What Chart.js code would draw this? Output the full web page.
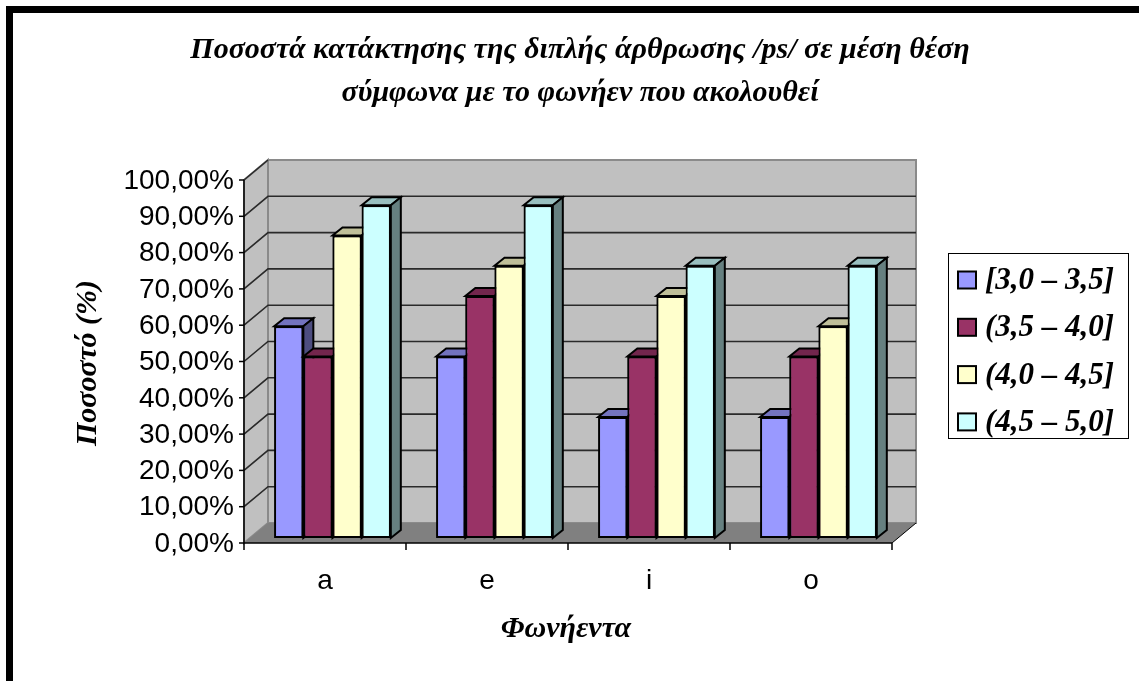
<!DOCTYPE html>
<html lang="el">
<head>
<meta charset="utf-8">
<title>Ποσοστά κατάκτησης /ps/</title>
<script src="https://cdn.jsdelivr.net/npm/chart.js@4.4.1/dist/chart.umd.min.js"></script>
<style>
    html, body { margin: 0; padding: 0; background: #fff; overflow: hidden; }
    #frame {
        position: absolute; left: 6px; top: 6px;
        width: 1400px; height: 900px;
        border-left: 7px solid #000; border-top: 7px solid #000;
    }
    #wrap { position: absolute; left: 0; top: 0; width: 1139px; height: 681px; }
</style>
</head>
<body>
<div id="frame"></div>
<div id="wrap"><canvas id="chart" width="1139" height="681"></canvas></div>
<script>
// Vowels and age bands
const vowels = ['a', 'e', 'i', 'o'];
const ageBands = ['[3,0 – 3,5]', '(3,5 – 4,0]', '(4,0 – 4,5]', '(4,5 – 5,0]'];

// Acquisition rate (%) per age band, one value per vowel
const band1 = [58.33, 50.00, 33.33, 33.33];
const band2 = [50.00, 66.67, 50.00, 50.00];
const band3 = [83.33, 75.00, 66.67, 58.33];
const band4 = [91.67, 91.67, 75.00, 75.00];

const yTicks = [0, 10, 20, 30, 40, 50, 60, 70, 80, 90, 100];

const titleLines = ['Ποσοστά κατάκτησης της διπλής άρθρωσης /ps/ σε μέση θέση',
                    'σύμφωνα με το φωνήεν που ακολουθεί'];
const yTitle = 'Ποσοστό (%)';
const xTitle = 'Φωνήεντα';

const bandColors = [[0x99, 0x99, 0xFF], [0x99, 0x33, 0x66], [0xFF, 0xFF, 0xCC], [0xCC, 0xFF, 0xFF]];

const rgb = (c, k) => 'rgb(' + c.map(v => Math.round(v * k)).join(',') + ')';

// 3D offsets: front plane (axes) and back wall relative to the bars' front faces
const FRONT = { x: -7.5, y: 5 };
const BACK = { x: 16.5, y: -15 };
const BAR_DEPTH = { x: 10, y: -8 };

const serif = '"Liberation Serif", "Times New Roman", serif';
const sans = '"Liberation Sans", Arial, sans-serif';

function poly(ctx, pts, fill, stroke, lw) {
    ctx.beginPath();
    ctx.moveTo(pts[0][0], pts[0][1]);
    for (let i = 1; i < pts.length; i++) ctx.lineTo(pts[i][0], pts[i][1]);
    ctx.closePath();
    if (fill) { ctx.fillStyle = fill; ctx.fill(); }
    if (stroke) { ctx.strokeStyle = stroke; ctx.lineWidth = lw || 1; ctx.stroke(); }
}

const excel3d = {
    id: 'excel3d',
    beforeDatasetsDraw(chart) {
        const ctx = chart.ctx;
        const ys = chart.scales.y, xs = chart.scales.x;
        const L = chart.chartArea.left, R = chart.chartArea.right;
        const y0 = ys.getPixelForValue(0), y100 = ys.getPixelForValue(100);
        ctx.save();

        // back wall
        poly(ctx, [[L + BACK.x, y100 + BACK.y], [R + BACK.x, y100 + BACK.y],
                   [R + BACK.x, y0 + BACK.y], [L + BACK.x, y0 + BACK.y]], '#c0c0c0', '#8a8a8a', 2);
        // side wall
        poly(ctx, [[L + FRONT.x, y100 + FRONT.y], [L + BACK.x, y100 + BACK.y],
                   [L + BACK.x, y0 + BACK.y], [L + FRONT.x, y0 + FRONT.y]], '#c0c0c0', '#8a8a8a', 2);

        // gridlines on both walls
        ctx.strokeStyle = '#2a2a2a';
        ctx.lineWidth = 1.6;
        yTicks.forEach(v => {
            if (v === 0) return;
            const y = ys.getPixelForValue(v);
            ctx.beginPath();
            ctx.moveTo(L + FRONT.x, y + FRONT.y);
            ctx.lineTo(L + BACK.x, y + BACK.y);
            if (v !== 100) ctx.lineTo(R + BACK.x, y + BACK.y);
            ctx.stroke();
        });

        // floor
        poly(ctx, [[L + FRONT.x, y0 + FRONT.y], [R + FRONT.x, y0 + FRONT.y],
                   [R + BACK.x, y0 + BACK.y], [L + BACK.x, y0 + BACK.y]], '#808080');
        ctx.strokeStyle = '#000';
        ctx.lineWidth = 1;
        ctx.beginPath();
        ctx.moveTo(R + FRONT.x, y0 + FRONT.y);
        ctx.lineTo(R + BACK.x, y0 + BACK.y);
        ctx.stroke();

        // value axis
        ctx.lineWidth = 1.5;
        ctx.beginPath();
        ctx.moveTo(L + FRONT.x, y100 + FRONT.y);
        ctx.lineTo(L + FRONT.x, y0 + FRONT.y);
        ctx.lineTo(R + FRONT.x, y0 + FRONT.y);
        ctx.stroke();
        yTicks.forEach(v => {
            const y = ys.getPixelForValue(v) + FRONT.y;
            ctx.beginPath();
            ctx.moveTo(L + FRONT.x - 5, y);
            ctx.lineTo(L + FRONT.x, y);
            ctx.stroke();
        });
        // category ticks between groups
        const step = (R - L) / vowels.length;
        for (let i = 0; i <= vowels.length; i++) {
            const x = L + FRONT.x + i * step;
            ctx.beginPath();
            ctx.moveTo(x, y0 + FRONT.y);
            ctx.lineTo(x, y0 + FRONT.y + 7);
            ctx.stroke();
        }

        // tick labels
        ctx.fillStyle = '#000';
        ctx.font = '28px ' + sans;
        ctx.textAlign = 'right';
        ctx.textBaseline = 'middle';
        yTicks.forEach(v => {
            const y = ys.getPixelForValue(v) + FRONT.y;
            ctx.fillText(v.toFixed(2).replace('.', ',') + '%', L + FRONT.x - 10, y + 1);
        });
        ctx.textAlign = 'center';
        vowels.forEach((lab, i) => {
            ctx.fillText(lab, xs.getPixelForValue(i) + FRONT.x, y0 + 43);
        });
        ctx.restore();
    },
    afterDatasetsDraw(chart) {
        // redraw each column left to right with its top and side faces,
        // so every column sits in front of its left neighbour's side face
        const ctx = chart.ctx;
        const dx = BAR_DEPTH.x, dy = BAR_DEPTH.y;
        ctx.save();
        ctx.lineJoin = 'miter';
        vowels.forEach((v, j) => {
            chart.data.datasets.forEach((ds, i) => {
                const bar = chart.getDatasetMeta(i).data[j];
                const c = bandColors[i];
                const p = bar.getProps(['x', 'y', 'base', 'width'], true);
                const l = p.x - p.width / 2, r = p.x + p.width / 2;
                bar.draw(ctx);
                poly(ctx, [[l, p.y], [r, p.y], [r + dx, p.y + dy], [l + dx, p.y + dy]], rgb(c, 0.75), '#000', 2);
                poly(ctx, [[r, p.y], [r + dx, p.y + dy], [r + dx, p.base + dy], [r, p.base]], rgb(c, 0.5), '#000', 2);
            });
        });
        ctx.restore();
    },
    afterDraw(chart) {
        const ctx = chart.ctx;
        ctx.save();
        ctx.fillStyle = '#000';
        ctx.textBaseline = 'middle';
        ctx.textAlign = 'center';

        // chart title
        ctx.font = 'italic bold 30px ' + serif;
        ctx.fillText(titleLines[0], 580, 50);
        ctx.fillText(titleLines[1], 580, 93);

        // axis titles
        ctx.font = 'italic bold 30px ' + serif;
        ctx.fillText(xTitle, 566, 629);
        ctx.save();
        ctx.translate(88, 363);
        ctx.rotate(-Math.PI / 2);
        ctx.fillText(yTitle, 0, 0);
        ctx.restore();

        // legend
        ctx.strokeStyle = '#000';
        ctx.lineWidth = 1;
        ctx.strokeRect(948.5, 253.5, 180, 185);
        ctx.font = 'italic bold 31px ' + serif;
        ctx.textAlign = 'left';
        ageBands.forEach((name, i) => {
            const cy = 280 + i * 47.3;
            ctx.fillStyle = rgb(bandColors[i], 1);
            ctx.fillRect(958, cy - 8.5, 18, 17);
            ctx.lineWidth = 2;
            ctx.strokeRect(958, cy - 8.5, 18, 17);
            ctx.fillStyle = '#000';
            ctx.fillText(name, 985, cy + 1);
        });
        ctx.restore();
    }
};

const seriesValues = [band1, band2, band3, band4];

new Chart(document.getElementById('chart'), {
    type: 'bar',
    data: {
        labels: vowels,
        datasets: seriesValues.map((vals, i) => ({
            label: ageBands[i],
            data: vals,
            backgroundColor: rgb(bandColors[i], 1),
            borderColor: '#000',
            borderWidth: 2,
            borderSkipped: false
        }))
    },
    options: {
        responsive: false,
        animation: false,
        devicePixelRatio: 1,
        layout: { padding: { left: 251.5, right: 239.5, top: 175, bottom: 143 } },
        datasets: { bar: { barPercentage: 1, categoryPercentage: 0.72 } },
        scales: {
            x: { display: false },
            y: { display: false, min: 0, max: 100 }
        },
        plugins: {
            legend: { display: false },
            title: { display: false },
            tooltip: { enabled: false }
        }
    },
    plugins: [excel3d]
});
</script>
</body>
</html>
